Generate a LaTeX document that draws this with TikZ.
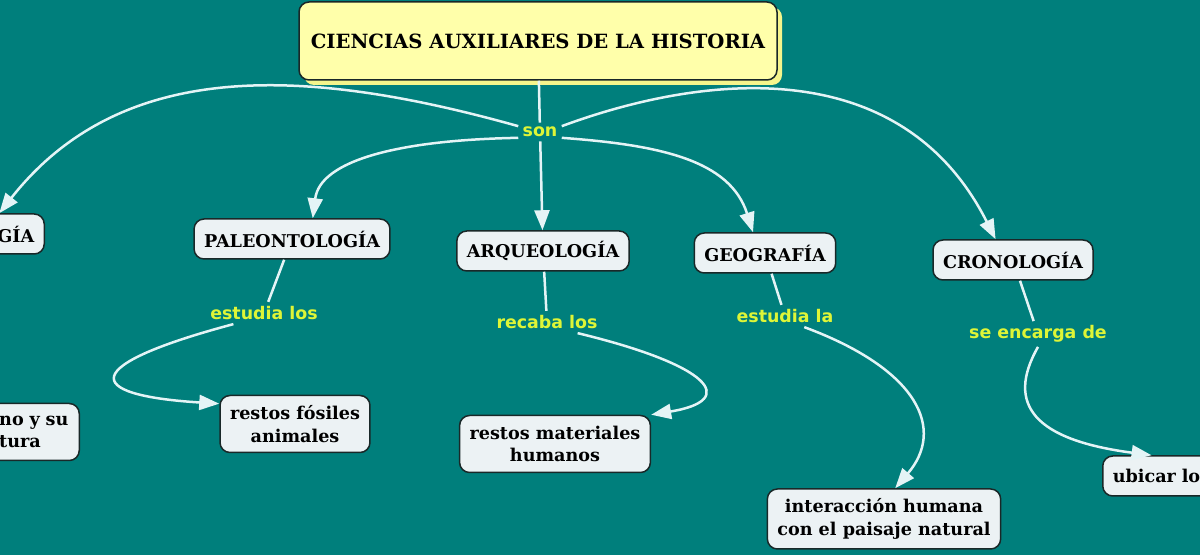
\documentclass[tikz,border=0pt]{standalone}
\usepackage{fontspec}
\newfontfamily\termfont{DejaVu Serif}
\newfontfamily\phrasefont{DejaVu Sans}
\usetikzlibrary{arrows.meta,positioning,shadows}
\definecolor{mapbg}{RGB}{0,127,124}
\definecolor{boxfill}{RGB}{236,242,244}
\definecolor{boxline}{RGB}{25,40,40}
\definecolor{titlefill}{RGB}{255,255,170}
\definecolor{titleshade}{RGB}{245,245,140}
\definecolor{phrasecol}{RGB}{222,245,55}
\definecolor{linkcol}{RGB}{228,244,246}
\tikzset{
    term/.style={rectangle, rounded corners=5pt, draw=boxline, line width=0.75pt, fill=boxfill,
      inner xsep=5pt, inner ysep=4pt, minimum height=20pt, align=center,
      font=\termfont\bfseries\fontsize{8.8}{11.3}\selectfont},
    term2/.style={term, minimum height=28.5pt},
    topic/.style={term, fill=titlefill, minimum width=239pt, minimum height=39pt,
      font=\termfont\bfseries\fontsize{9.8}{12}\selectfont,
      general shadow={fill=titleshade, shadow xshift=2.5pt, shadow yshift=-2.5pt}},
    phrase/.style={inner sep=2pt, text=phrasecol, font=\phrasefont\bfseries\fontsize{8.7}{10}\selectfont},
    connector/.style={draw=linkcol, line width=1.25pt},
    post/.style={connector, -{Triangle[length=10pt, width=7.5pt]}},
  }

\begin{document}
\begin{tikzpicture}[x=0.5pt, y=-0.5pt]
  \useasboundingbox (0,0) rectangle (1200,555);
  \fill[mapbg] (0,0) rectangle (1200,555);
  \clip (0,0) rectangle (1200,555);

  \node (title) [topic] at (538,41) {CIENCIAS AUXILIARES DE LA HISTORIA};
  \node (son) [phrase] at (540,132) {son}
    edge [connector] (title);

  % ciencias
  \node (gia) [term, anchor=east, text width=35pt, align=right] at (45,234) {GÍA};
  \node (paleo) [term] at (292,239) {PALEONTOLOGÍA};
  \node (arq) [term] at (543,251) {ARQUEOLOGÍA};
  \node (geo) [term] at (765,253) {GEOGRAFÍA};
  \node (crono) [term] at (1013,260) {CRONOLOGÍA};

  % frases
  \node (estl) [phrase] at (264,313) {estudia los}
    edge [connector] (paleo);
  \node (recl) [phrase] at (547,322) {recaba los}
    edge [connector] (arq);
  \node (estla) [phrase] at (785,316) {estudia la}
    edge [connector] (geo);
  \node (encl) [phrase] at (1038,334) {se encarga de}
    edge [connector] (crono);

  % objetos
  \node (human) [term2, anchor=east, text width=35pt, align=left] at (80,432) {no y su\\tura};
  \node (fos) [term2] at (295,424) {restos fósiles\\animales};
  \node (mat) [term2] at (555,444) {restos materiales\\humanos};
  \node (inter) [term2, minimum height=30pt] at (884,519) {interacción humana\\con el paisaje natural};
  \node (ubi) [term, anchor=west, text width=55pt, align=left] at (1102,476) {ubicar los};

  \draw[post] (son) -- (arq);
  \draw[post] (son.165) .. controls (300,65) and (120,60) .. (gia.north);
  \draw[post] (son.195) .. controls (400,140) and (320,160) .. (paleo.45);
  \draw[post] (son.-15) .. controls (660,145) and (730,160) .. (geo.120);
  \draw[post] (son.15) .. controls (700,75) and (900,50) .. (crono.130);

  \draw[post] (estl.200) .. controls (80,365) and (80,395) .. (fos.165);
  \draw[post] (recl.-20) .. controls (710,365) and (740,400) .. (mat.north east);
  \draw[post] (estla.-30) .. controls (920,370) and (945,430) .. (inter.70);
  \draw[post] (encl.south) .. controls (1005,405) and (1035,440) .. (ubi.128);
\end{tikzpicture}
\end{document}
